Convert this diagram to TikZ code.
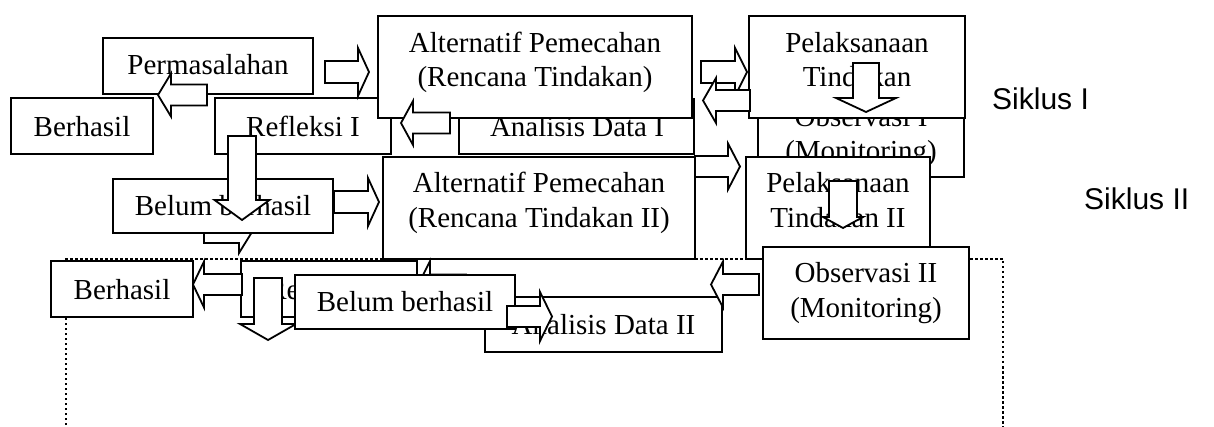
\documentclass[tikz,border=0pt]{standalone}
\usepackage{fontspec}
\setmainfont{Liberation Serif}
\newfontfamily\sansfam{Liberation Sans}
\tikzset{
  boxn/.style={draw, fill=white, line width=1.8pt, inner sep=0pt},
  tx/.style={anchor=base, inner sep=0pt, font=\fontsize{29}{34}\selectfont},
  sk/.style={anchor=base west, inner sep=0pt, font=\sansfam\fontsize{30}{34}\selectfont},
  blk/.style={draw, fill=white, line width=1.8pt, line join=miter},
  dots/.style={line width=2pt, dash pattern=on 2.5pt off 2.5pt}
}
% horizontal block arrow: tail, head base, tip, centre y, shaft half, head half
\newcommand{\harr}[6]{\draw[blk] (#1,#4-#5) -- (#2,#4-#5) -- (#2,#4-#6) -- (#3,#4) -- (#2,#4+#6) -- (#2,#4+#5) -- (#1,#4+#5) -- cycle;}
% vertical block arrow: top, head base, tip, centre x, shaft half, head half
\newcommand{\varr}[6]{\draw[blk] (#4-#5,#1) -- (#4-#5,#2) -- (#4-#6,#2) -- (#4,#3) -- (#4+#6,#2) -- (#4+#5,#2) -- (#4+#5,#1) -- cycle;}
\begin{document}
\begin{tikzpicture}[x=1pt,y=-1pt]
\useasboundingbox (0,0) rectangle (1214,427);
\clip (0,0) rectangle (1214,427);
% dotted frame
\coordinate (dL) at (66,440);
\coordinate (dTL) at (66,259);
\coordinate (dTR) at (1003,259);
\coordinate (dR) at (1003,440);
\draw[dots] (dL) -- (dTL) -- (dTR) -- (dR);

% ---- cycle I ----
\node[boxn, minimum width=176, minimum height=56] (refl1) at (303,126) {};
\node[tx] (refl1t) at (303,137) {Refleksi I};
\node[boxn, minimum width=235, minimum height=55] (anal1) at (576.5,126.5) {};
\node[tx] (anal1t) at (577,137) {Analisis Data I};
\node[boxn, minimum width=314, minimum height=102] (alt1) at (535,67) {};
\node[tx] (alt1a) at (535,53) {Alternatif Pemecahan};
\node[tx] (alt1b) at (535,87) {(Rencana Tindakan)};
\harr{450}{413}{401}{123}{10.5}{22}
\node[boxn, minimum width=210, minimum height=56] (perm) at (208,66) {};
\node[tx] (permt) at (208,75) {Permasalahan};
\node[boxn, minimum width=142, minimum height=56] (berh1) at (82,126) {};
\node[tx] (berh1t) at (82,137) {Berhasil};
\harr{325}{358}{369}{72}{11}{24}
\harr{207}{171}{158}{95}{10.5}{21.5}
\node[boxn, minimum width=206, minimum height=93] (obs1) at (861,130.5) {};
\node[tx] (obs1a) at (861,127) {Observasi I};
\node[tx] (obs1b) at (861,161) {(Monitoring)};
\node[boxn, minimum width=216, minimum height=102] (pel1) at (857,67) {};
\node[tx] (pel1a) at (857,53) {Pelaksanaan};
\node[tx] (pel1b) at (857,87) {Tindakan};
\varr{63}{98}{112}{866}{13}{30}
\harr{701}{735}{747}{72}{11}{24}
\harr{750}{716}{703}{100.5}{10.5}{22.5}

% ---- cycle II ----
\harr{204}{239}{252}{232}{11}{21}
\node[boxn, minimum width=220, minimum height=54] (belum1) at (223,206) {};
\node[tx] (belum1t) at (223,216) {Belum berhasil};
\varr{136}{200}{220}{242}{14}{27.5}
\node[boxn, minimum width=312, minimum height=102] (alt2) at (539,208) {};
\node[tx] (alt2a) at (539,193) {Alternatif Pemecahan};
\node[tx] (alt2b) at (539,228) {(Rencana Tindakan II)};
\harr{334}{368}{379}{202}{11}{24}
\harr{695}{728}{740}{166.5}{10.5}{23}
\node[boxn, minimum width=184, minimum height=102] (pel2) at (838,208) {};
\node[tx] (pel2a) at (838,193) {Pelaksanaan};
\node[tx] (pel2b) at (838,228) {Tindakan II};
\varr{181}{217}{228}{843}{14}{20}
\node[boxn, minimum width=206, minimum height=92] (obs2) at (866,293) {};
\node[tx] (obs2a) at (866,283) {Observasi II};
\node[tx] (obs2b) at (866,317) {(Monitoring)};

% ---- bottom row ----
\node[boxn, minimum width=176, minimum height=56] (refl2) at (329,289) {};
\node[tx] (refl2t) at (329,300) {Refleksi II};
\harr{466}{430}{418}{285}{10.5}{24}
\varr{278}{324}{340}{268}{14}{28}
\node[boxn, minimum width=237, minimum height=55] (anal2) at (603.5,324.5) {};
\node[tx] (anal2t) at (603.5,334) {Analisis Data II};
\node[boxn, minimum width=220, minimum height=54] (belum2) at (405,302) {};
\node[tx] (belum2t) at (405,312) {Belum berhasil};
\harr{507}{540}{552}{316.5}{10.5}{24.5}
\harr{759}{723}{711}{284.5}{10.5}{23}
\node[boxn, minimum width=142, minimum height=56] (berh2) at (122,289) {};
\node[tx] (berh2t) at (122,300) {Berhasil};
\harr{242}{204}{193}{284.5}{10.5}{23}

% cycle labels
\node[sk] (sik1) at (992,110) {Siklus I};
\node[sk] (sik2) at (1084,210) {Siklus II};
\end{tikzpicture}
\end{document}
